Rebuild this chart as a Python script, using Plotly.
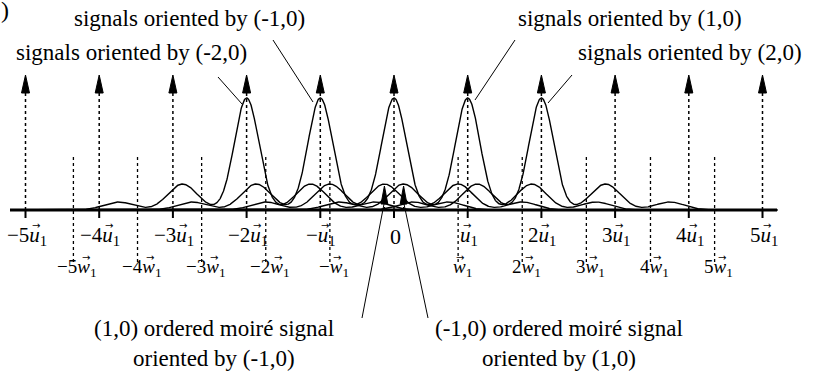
import numpy as np
import plotly.graph_objects as go

# ---------------- data ----------------
u_orders = [-5, -4, -3, -2, -1, 0, 1, 2, 3, 4, 5]          # impulses of layer 1 (units of u1)
w_orders = [-5, -4, -3, -2, -1, 1, 2, 3, 4, 5]             # impulses of layer 2
w_ratio = 0.87                                             # |w1| / |u1|
signal_orders = [-2, -1, 0, 1, 2]                          # signals oriented by (k,0)
harmonic_n = [-2, -1, 0, 1, 2]                             # peaks at k*u1 + n*w1
harmonic_heights = [8, 26, 112, 26, 8]
harmonic_widths = [0.2, 0.2, 0.165, 0.2, 0.2]
moire_orders = [-1, 1]                                     # moiré impulses at ±(u1 - w1)

u_coefs = ["−5", "−4", "−3", "−2", "−", "", "", "2", "3", "4", "5"]
w_coefs = ["−5", "−4", "−3", "−2", "−", "", "2", "3", "4", "5"]

# ---------------- layout helpers ----------------
W, H = 813, 388
X0_PX, U_PX, AXIS_PX = 394.0, 73.7, 210.0
def dx(px):
    return (px - X0_PX) / U_PX
def dy(py):
    return AXIS_PX - py

FAMILY = "Liberation Serif, Times New Roman, serif"
CHAR_W = {"−": 0.564, "-": 0.333}

def coef_width(s):
    return sum(CHAR_W.get(ch, 0.5) for ch in s)

fig = go.Figure()

# curves: one per orientation (k,0)
xs = np.linspace(-5.2, 5.2, 2500)
for k in signal_orders:
    ys = np.zeros_like(xs)
    for n, h, s in zip(harmonic_n, harmonic_heights, harmonic_widths):
        c = k + n * w_ratio
        ys += h * np.exp(-0.5 * ((xs - c) / s) ** 2)
    fig.add_trace(go.Scatter(x=xs, y=ys, mode="lines",
                             line=dict(color="black", width=1.4),
                             hoverinfo="skip", showlegend=False))

shapes = []
# horizontal axis
shapes.append(dict(type="line", x0=dx(10), x1=dx(777), y0=0, y1=0,
                   line=dict(color="black", width=3)))
# layer-1 impulses: dotted lines with arrowheads + ticks
for m in u_orders:
    shapes.append(dict(type="line", x0=m, x1=m, y0=0, y1=dy(93),
                       line=dict(color="black", width=1.5, dash="dot")))
    hw = 4.0 / U_PX
    shapes.append(dict(type="path",
                       path=f"M {m-hw},{dy(93)} L {m},{dy(75)} L {m+hw},{dy(93)} Z",
                       fillcolor="black", line=dict(color="black", width=1)))
    shapes.append(dict(type="line", x0=m, x1=m, y0=0, y1=dy(218),
                       line=dict(color="black", width=2)))
# layer-2 impulses: dotted lines
for n in w_orders:
    x = n * w_ratio
    shapes.append(dict(type="line", x0=x, x1=x, y0=dy(262), y1=dy(157),
                       line=dict(color="black", width=1.3, dash="dot")))
# moiré impulses: small arrowheads near the origin
for s in moire_orders:
    x = s * (1 - w_ratio)
    hw = 3.4 / U_PX
    shapes.append(dict(type="line", x0=x, x1=x, y0=0, y1=dy(203),
                       line=dict(color="black", width=1.3, dash="dot")))
    shapes.append(dict(type="path",
                       path=f"M {x-hw},{dy(204)} L {x},{dy(186)} L {x+hw},{dy(204)} Z",
                       fillcolor="black", line=dict(color="black", width=1)))

# leader lines
leaders = [((218, 77), (242, 104)), ((273, 40), (313, 102)),
           ((515, 40), (475, 100)), ((572, 75), (548, 103)),
           ((362, 318), (384, 204)), ((428, 318), (404, 204))]
for (ax_, ay_), (bx_, by_) in leaders:
    shapes.append(dict(type="line", x0=dx(ax_), y0=dy(ay_), x1=dx(bx_), y1=dy(by_),
                       line=dict(color="black", width=1)))

annotations = []
def txt(px, py, s, size=23, xanchor="center", family=FAMILY):
    annotations.append(dict(x=dx(px), y=dy(py), text=s, showarrow=False,
                            xanchor=xanchor, yanchor="middle",
                            font=dict(family=family, size=size, color="black")))

def vec_label(cx, py, coef, letter, letter_w, fs):
    total = fs * (coef_width(coef) + letter_w + 0.35)
    left = cx - total / 2
    txt(cx, py, f"{coef}<i>{letter}</i><sub>1</sub>", size=fs)
    lc = left + fs * coef_width(coef) + fs * letter_w / 2 + 1.5
    txt(lc, py - 11, "→", size=10, family="DejaVu Sans")

for m, coef in zip(u_orders, u_coefs):
    cx = X0_PX + m * U_PX + 1
    if m == 0:
        txt(cx, 236, "0", size=22)
    else:
        vec_label(cx, 236, coef, "u", 0.5, 21)
for n, coef in zip(w_orders, w_coefs):
    cx = X0_PX + n * w_ratio * U_PX + 4
    vec_label(cx, 268, coef, "w", 0.667, 19)

txt(5, 10, ")", size=24)
txt(189, 18, "signals oriented by (-1,0)")
txt(131, 52, "signals oriented by (-2,0)")
txt(630, 18, "signals oriented by (1,0)")
txt(690, 52, "signals oriented by (2,0)")
txt(214, 328, "(1,0) ordered moiré signal")
txt(214, 358, "oriented by (-1,0)")
txt(559, 328, "(-1,0) ordered moiré signal")
txt(559, 358, "oriented by (1,0)")

fig.update_layout(
    width=W, height=H, autosize=False,
    margin=dict(l=0, r=0, t=0, b=0),
    paper_bgcolor="white", plot_bgcolor="white",
    xaxis=dict(range=[dx(0), dx(W)], visible=False, fixedrange=True),
    yaxis=dict(range=[dy(H), dy(0)], visible=False, fixedrange=True),
    shapes=shapes, annotations=annotations, showlegend=False,
)

fig.write_html("out.html", config={"displayModeBar": False},
               post_script="document.body.style.margin='0px';document.body.style.overflow='hidden';")
